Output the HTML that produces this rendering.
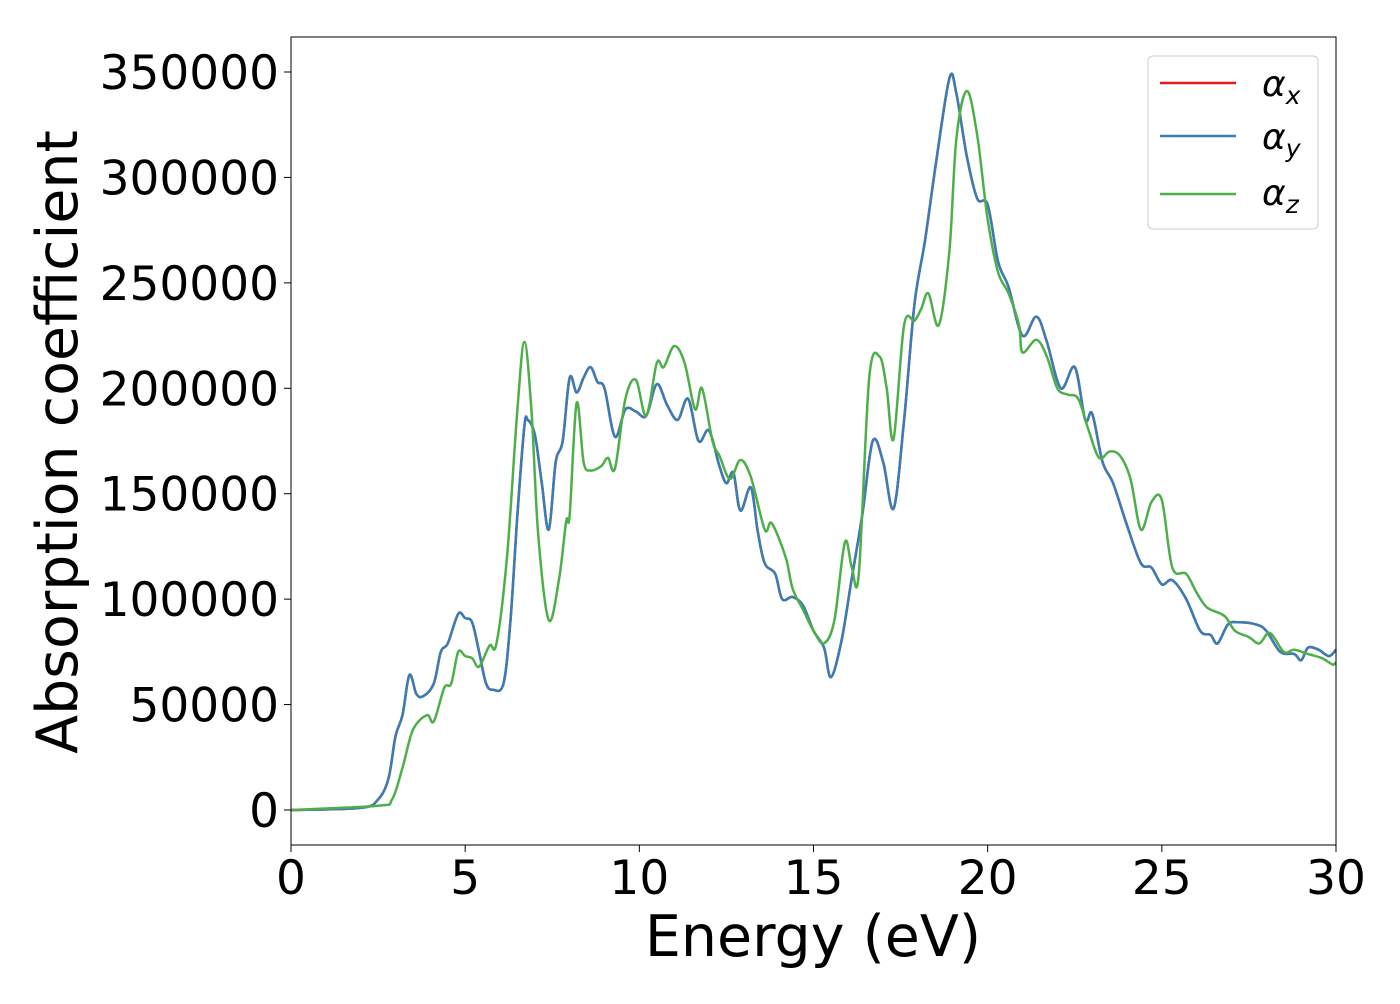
<!DOCTYPE html>
<html><head><meta charset="utf-8"><style>
body{margin:0;background:#fff;font-family:"DejaVu Sans","Liberation Sans",sans-serif}
svg text{font-family:"DejaVu Sans","Liberation Sans",sans-serif}
</style></head><body>
<svg id="chart" width="1400" height="1000" xmlns="http://www.w3.org/2000/svg">
<rect x="0" y="0" width="1400" height="1000" fill="#fff"/>
<g id="series"></g>
<rect x="291" y="37" width="1045" height="808" fill="none" stroke="#000" stroke-width="1"/>
<g id="ticks"></g>
<text transform="translate(77,442) rotate(-90)" text-anchor="middle" font-size="57">Absorption coefficient</text>
<text x="813" y="956" text-anchor="middle" font-size="57">Energy (eV)</text>
<g>
<rect x="1148" y="56" width="170" height="173" rx="5" fill="#fff" fill-opacity="0.8" stroke="#ccc"/>
<line x1="1160" y1="83" x2="1236" y2="83" stroke="#e41a1c" stroke-width="2.5"/>
<text x="1262" y="96" font-size="36" font-style="italic">α<tspan font-size="25" dy="8">x</tspan></text>
<line x1="1160" y1="136" x2="1236" y2="136" stroke="#377eb8" stroke-width="2.5"/>
<text x="1262" y="149" font-size="36" font-style="italic">α<tspan font-size="25" dy="8">y</tspan></text>
<line x1="1160" y1="194" x2="1236" y2="194" stroke="#4daf4a" stroke-width="2.5"/>
<text x="1262" y="205" font-size="36" font-style="italic">α<tspan font-size="25" dy="8">z</tspan></text>
</g>
</svg>
<script>
const xTicks=[0,5,10,15,20,25,30];
const yTicks=[0,50000,100000,150000,200000,250000,300000,350000];
const energyXY=[0,2,2.5,2.8,3.0,3.2,3.4,3.6,3.8,4.1,4.3,4.5,4.8,5.0,5.2,5.4,5.6,5.8,6.1,6.3,6.5,6.7,6.8,7.0,7.2,7.4,7.6,7.8,8.0,8.2,8.4,8.6,8.8,9.0,9.3,9.6,9.9,10.2,10.5,10.8,11.1,11.4,11.7,12.0,12.3,12.5,12.7,12.9,13.2,13.4,13.6,13.9,14.1,14.4,14.7,15.0,15.3,15.5,15.8,16.1,16.4,16.7,17.0,17.3,17.6,17.9,18.2,18.5,18.9,19.1,19.4,19.7,20.0,20.3,20.6,21.0,21.4,21.7,22.1,22.5,22.8,23.0,23.3,23.6,24.0,24.4,24.7,25.0,25.3,25.7,26.1,26.4,26.6,26.9,27.2,27.7,28.0,28.4,28.8,29.0,29.2,29.5,29.8,30];
const alphaXY=[0,1000,5000,15000,35000,45000,64000,55000,54000,60000,75000,79000,93000,91000,89000,75000,60000,57000,60000,90000,140000,182000,185000,178000,155000,133000,165000,175000,205000,198000,205000,210000,203000,200000,177000,190000,189000,187000,202000,192000,185000,195000,175000,180000,163000,155000,160000,142000,153000,132000,117000,112000,100000,101000,97000,85000,77000,63000,80000,110000,140000,175000,165000,143000,185000,240000,270000,305000,347000,340000,310000,290000,287000,260000,248000,225000,234000,222000,200000,210000,185000,188000,165000,155000,135000,117000,115000,107000,109000,100000,85000,83000,79000,88000,89000,88000,85000,75000,74000,71000,77000,76000,73000,76000];
const energyZ=[0,2.5,2.9,3.2,3.5,3.9,4.1,4.4,4.6,4.8,5.0,5.2,5.4,5.7,5.9,6.2,6.5,6.7,6.9,7.1,7.4,7.7,7.9,8.0,8.2,8.4,8.6,8.9,9.1,9.3,9.6,9.9,10.2,10.5,10.7,11.0,11.3,11.6,11.8,12.1,12.3,12.6,12.9,13.2,13.6,13.8,14.2,14.4,14.7,15.0,15.3,15.6,15.9,16.1,16.3,16.6,16.9,17.1,17.3,17.6,17.9,18.1,18.3,18.6,18.9,19.1,19.4,19.7,20.0,20.3,20.6,20.9,21.0,21.4,21.7,22.0,22.3,22.6,22.9,23.2,23.5,23.8,24.1,24.4,24.7,25.0,25.3,25.7,26.0,26.3,26.8,27.1,27.5,27.8,28.1,28.5,28.8,29.2,29.6,29.9,30];
const alphaZ=[0,2000,5000,20000,38000,45000,42000,58000,60000,75000,73000,72000,68000,78000,79000,120000,190000,222000,190000,130000,90000,110000,137000,140000,193000,165000,161000,163000,167000,162000,195000,204000,187000,212000,210000,220000,212000,190000,200000,175000,168000,157000,166000,158000,133000,136000,120000,105000,95000,85000,79000,90000,127000,115000,112000,205000,215000,200000,176000,230000,232000,238000,245000,230000,265000,318000,341000,320000,280000,255000,245000,230000,217000,223000,215000,200000,197000,195000,180000,167000,170000,168000,157000,133000,146000,147000,115000,112000,103000,96000,92000,85000,82000,79000,84000,75000,76000,74000,72000,69000,70000];
const X=e=>291+e*(1045/30);
const Y=v=>810-v*(738/350000);
const NS="http://www.w3.org/2000/svg";
const ticks=document.getElementById('ticks');
xTicks.forEach(t=>{
 const l=document.createElementNS(NS,'line');
 l.setAttribute('x1',X(t));l.setAttribute('x2',X(t));l.setAttribute('y1',845);l.setAttribute('y2',852);l.setAttribute('stroke','#000');
 
 
 ticks.appendChild(l);
 const tx=document.createElementNS(NS,'text');
 tx.setAttribute('x',X(t));tx.setAttribute('y',894);tx.setAttribute('text-anchor','middle');tx.setAttribute('font-size','47');
 tx.textContent=t;
 
 
 ticks.appendChild(tx);
});
yTicks.forEach(t=>{
 const l=document.createElementNS(NS,'line');
 l.setAttribute('x1',284);l.setAttribute('x2',291);l.setAttribute('y1',Y(t));l.setAttribute('y2',Y(t));l.setAttribute('stroke','#000');
 
 
 ticks.appendChild(l);
 const tx=document.createElementNS(NS,'text');
 tx.setAttribute('x',279);tx.setAttribute('y',Y(t)+17);tx.setAttribute('text-anchor','end');tx.setAttribute('font-size','47');
 tx.textContent=t;
 
 
 ticks.appendChild(tx);
});
const series=document.getElementById('series');
function smoothPath(pts){
 let d='M'+pts[0][0].toFixed(1)+','+pts[0][1].toFixed(1);
 for(let i=0;i<pts.length-1;i++){
  const p0=pts[Math.max(0,i-1)],p1=pts[i],p2=pts[i+1],p3=pts[Math.min(pts.length-1,i+2)];
  const c1=[p1[0]+(p2[0]-p0[0])/6,p1[1]+(p2[1]-p0[1])/6];
  const c2=[p2[0]-(p3[0]-p1[0])/6,p2[1]-(p3[1]-p1[1])/6];
  d+=' C'+c1[0].toFixed(1)+','+c1[1].toFixed(1)+' '+c2[0].toFixed(1)+','+c2[1].toFixed(1)+' '+p2[0].toFixed(1)+','+p2[1].toFixed(1);
 }
 return d;
}
function draw(xs,ys,color,name){
 const p=document.createElementNS(NS,'path');
 p.setAttribute('d',smoothPath(xs.map((e,i)=>[X(e),Y(ys[i])])));
 p.setAttribute('fill','none');p.setAttribute('stroke',color);p.setAttribute('stroke-width','2.5');p.setAttribute('stroke-linejoin','round');
 
 
 series.appendChild(p);
}
draw(energyXY,alphaXY,'#e41a1c','alpha-x-line');
draw(energyXY,alphaXY,'#377eb8','alpha-y-line');
draw(energyZ,alphaZ,'#4daf4a','alpha-z-line');
</script>
</body></html>
